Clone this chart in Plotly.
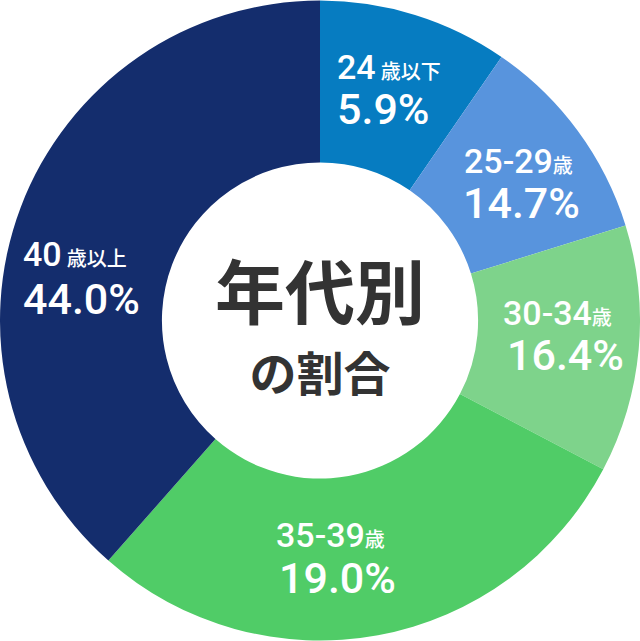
import plotly.graph_objects as go

# ---- data ----
age_groups = ["24歳以下", "25-29歳", "30-34歳", "35-39歳", "40歳以上"]
label_numbers = ["24", "25-29", "30-34", "35-39", "40"]
label_suffixes = ["歳以下", "歳", "歳", "歳", "歳以上"]
share_labels = ["5.9%", "14.7%", "16.4%", "19.0%", "44.0%"]
# slice sizes as drawn in the picture (percent of full circle)
slice_sizes = [9.6, 10.6, 12.5, 28.8, 38.5]

colors = ["#067cc1", "#5894dd", "#7ed38b", "#50cc67", "#142d6d"]

W, H = 640, 641

fig = go.Figure(go.Pie(
    labels=age_groups,
    values=slice_sizes,
    sort=False,
    direction="clockwise",
    rotation=0,
    hole=0.494,
    marker=dict(colors=colors, line=dict(width=0)),
    textinfo="none",
    hoverinfo="skip",
    showlegend=False,
    domain=dict(x=[0, 1], y=[0, 1]),
))

# label layout (pixel positions: line1 left x, line1 center y, line2 left x, line2 center y)
label_pos = [
    (335, 67, 335, 109),
    (462, 161, 461, 203),
    (501, 313, 505, 355),
    (274, 535, 277, 578),
    (21, 254, 21, 299),
]

NUM_FONT = "Roboto, 'Noto Sans CJK JP', sans-serif"
annotations = []
for num, suf, pct, (x1, y1, x2, y2) in zip(label_numbers, label_suffixes, share_labels, label_pos):
    sep = " " if len(suf) > 1 else ""
    annotations.append(dict(
        x=x1 / W, y=1 - y1 / H, xref="paper", yref="paper",
        xanchor="left", yanchor="middle", showarrow=False,
        text=f"{num}<span style='font-size:20px'>{sep}{suf}</span>",
        font=dict(family=NUM_FONT, size=34, color="white", weight=500),
    ))
    annotations.append(dict(
        x=x2 / W, y=1 - y2 / H, xref="paper", yref="paper",
        xanchor="left", yanchor="middle", showarrow=False,
        text=pct,
        font=dict(family=NUM_FONT, size=43, color="white", weight=500),
    ))

# centre title as one two-line text
annotations.append(dict(
    x=320 / W, y=1 - 322 / H, xref="paper", yref="paper",
    xanchor="center", yanchor="middle", showarrow=False, align="center",
    text="<span style='font-size:70px'>年代別</span><br><span style='font-size:47px'>の割合</span>",
    font=dict(family="'Noto Sans CJK JP', sans-serif", size=55, color="#333333", weight="bold"),
))

fig.update_layout(
    width=W, height=H,
    margin=dict(l=0, r=0, t=0, b=0),
    paper_bgcolor="white",
    plot_bgcolor="white",
    annotations=annotations,
)

fig.write_html(
    "out.html",
    config={"displayModeBar": False},
    post_script="document.body.style.margin='0px';document.body.style.padding='0px';",
)
